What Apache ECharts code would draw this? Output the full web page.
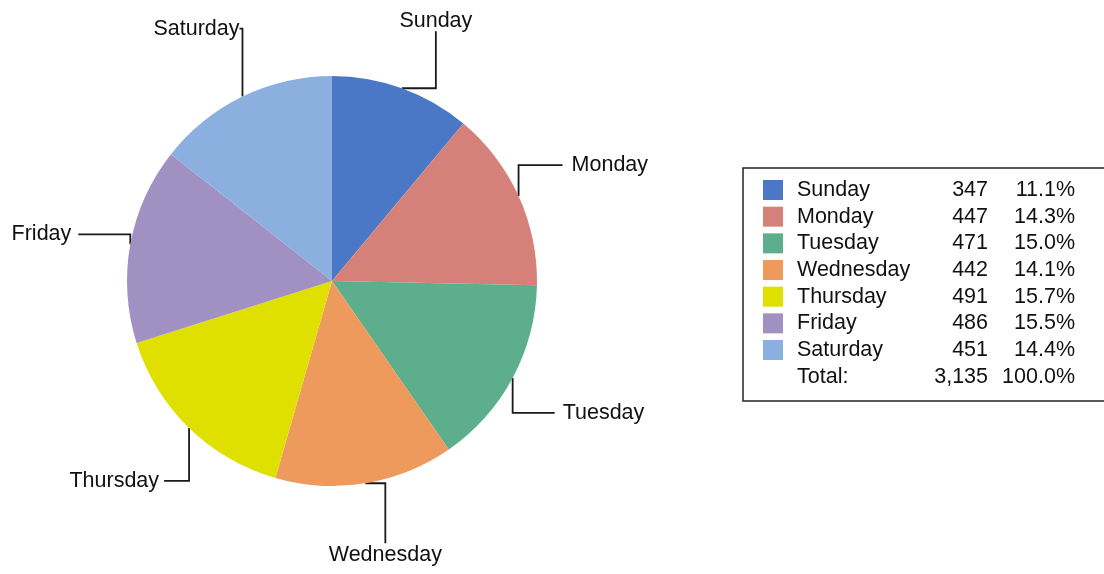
<!DOCTYPE html>
<html>
<head>
<meta charset="utf-8">
<script src="https://cdn.jsdelivr.net/npm/echarts@6/dist/echarts.min.js"></script>
<style>
  html, body { margin: 0; padding: 0; background: #fff; }
  #main { width: 1104px; height: 574px; }
</style>
</head>
<body>
<div id="main"></div>
<script>
var days = ['Sunday', 'Monday', 'Tuesday', 'Wednesday', 'Thursday', 'Friday', 'Saturday'];
var counts = [347, 447, 471, 442, 491, 486, 451];
var colors = ['#4a78c6', '#d58179', '#5cae8c', '#ee9a5c', '#dfe000', '#a190c2', '#8bb0e0'];

// leader line elbows: first segment, second segment (px), label gap
var leaders = [
    { first: 'h', a: 34, b: -57, gap: 10 },
    { first: 'v', a: -31, b: 44, gap: 9 },
    { first: 'v', a: 35, b: 42, gap: 8 },
    { first: 'h', a: 20, b: 60, gap: 12 },
    { first: 'v', a: 53, b: -25, gap: 5 },
    { first: 'v', a: -10, b: -52, gap: 7 },
    { first: 'v', a: -68, b: -3, gap: 0 }
];

var center = [332, 281];
var radius = 205;
var font = '"Liberation Sans", Arial, sans-serif';
var fontSize = 21.5;

var total = 0;
for (var i = 0; i < counts.length; i++) total += counts[i];

var midAngles = [];
var cum = 0;
for (var i = 0; i < counts.length; i++) {
    midAngles.push((cum + counts[i] / 2) / total * Math.PI * 2);
    cum += counts[i];
}

function pct(v) {
    return (v / total * 100).toFixed(1) + '%';
}
function fmt(n) {
    return String(n).replace(/\B(?=(\d{3})+(?!\d))/g, ',');
}

var pieData = days.map(function (d, i) {
    return { name: d, value: counts[i], itemStyle: { color: colors[i] } };
});

var myChart = echarts.init(document.getElementById('main'), null, { renderer: 'canvas' });

var option = {
    backgroundColor: '#ffffff',
    animation: false,
    textStyle: { fontFamily: font },
    legend: {
        orient: 'vertical',
        left: 743,
        top: 168,
        padding: [11, 60, 40, 20],
        borderColor: '#222',
        borderWidth: 1.5,
        itemWidth: 20,
        itemHeight: 20,
        itemGap: 4.67,
        icon: 'rect',
        selectedMode: false,
        data: days,
        formatter: function (name) {
            var i = days.indexOf(name);
            return '{n|' + name + '}{v|' + counts[i] + '}{p|' + pct(counts[i]) + '}';
        },
        textStyle: {
            fontFamily: font,
            fontSize: fontSize,
            color: '#111',
            rich: {
                n: { fontFamily: font, fontSize: fontSize, width: 140, padding: [0, 0, 0, 9], color: '#111' },
                v: { fontFamily: font, fontSize: fontSize, width: 51, align: 'right', color: '#111' },
                p: { fontFamily: font, fontSize: fontSize, width: 87, align: 'right', color: '#111' }
            }
        }
    },
    graphic: [
        {
            type: 'text', left: 797, top: 366,
            style: { text: 'Total:', font: fontSize + 'px ' + font, fill: '#111' }
        },
        {
            type: 'text', right: 1104 - 988, top: 366,
            style: { text: fmt(total), font: fontSize + 'px ' + font, fill: '#111', align: 'right' }
        },
        {
            type: 'text', right: 1104 - 1075, top: 366,
            style: { text: '100.0%', font: fontSize + 'px ' + font, fill: '#111', align: 'right' }
        }
    ],
    series: [
        {
            type: 'pie',
            center: center,
            radius: radius,
            startAngle: 90,
            clockwise: true,
            avoidLabelOverlap: false,
            data: pieData,
            itemStyle: { borderWidth: 0 },
            emphasis: { disabled: true },
            label: {
                show: true,
                position: 'outside',
                formatter: '{b}',
                fontFamily: font,
                fontSize: fontSize,
                color: '#111'
            },
            labelLine: {
                show: true,
                length: 10,
                length2: 10,
                lineStyle: { color: '#1a1a1a', width: 1.8 }
            },
            labelLayout: function (params) {
                var i = params.dataIndex;
                var ang = midAngles[i];
                var p0 = [center[0] + radius * Math.sin(ang), center[1] - radius * Math.cos(ang)];
                var L = leaders[i];
                var p1, p2, res;
                if (L.first === 'h') {
                    p1 = [p0[0] + L.a, p0[1]];
                    p2 = [p1[0], p1[1] + L.b];
                    res = {
                        x: p2[0],
                        y: L.b < 0 ? p2[1] - L.gap : p2[1] + L.gap,
                        align: 'center',
                        verticalAlign: 'middle'
                    };
                } else {
                    p1 = [p0[0], p0[1] + L.a];
                    p2 = [p1[0] + L.b, p1[1]];
                    res = {
                        x: L.b < 0 ? p2[0] - L.gap : p2[0] + L.gap,
                        y: p2[1],
                        align: L.b < 0 ? 'right' : 'left',
                        verticalAlign: 'middle'
                    };
                }
                res.labelLinePoints = [p0, p1, p2];
                return res;
            }
        }
    ]
};
myChart.setOption(option);
</script>
</body>
</html>
